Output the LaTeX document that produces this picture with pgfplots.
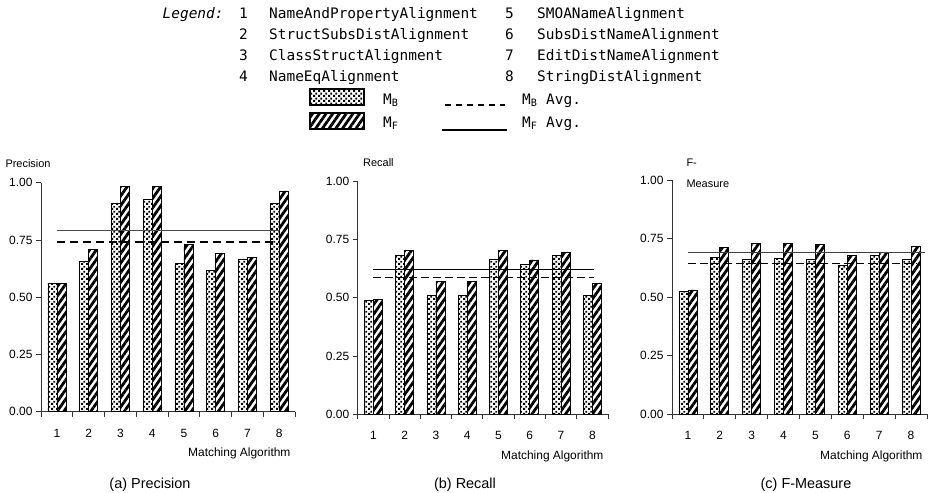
\documentclass[border=0pt]{standalone}
\usepackage{fontspec}
\setmainfont{Liberation Sans}
\newfontfamily\mono{DejaVu Sans Mono}
\usepackage{pgfplots}
\pgfplotsset{compat=1.18}
\usetikzlibrary{patterns,patterns.meta}

\tikzdeclarepattern{
  name=sqdots,
  type=uncolored,
  bottom left={(0bp,0bp)},
  top right={(4.6bp,4.6bp)},
  tile size={(4.6bp,4.6bp)},
  code={
    \fill (0.2bp,0.2bp) rectangle (2.2bp,2.2bp);
    \fill (2.5bp,2.5bp) rectangle (4.5bp,4.5bp);
  }
}

\pgfplotsset{
  panel/.style={
    scale only axis,
    anchor=south west,
    xmin=0.5, xmax=8.5, ymin=0, ymax=1,
    ybar=0pt, bar width=9bp,
    axis x line=bottom, axis y line=left,
    axis line style={-, draw=black!80, line width=0.8bp},
    xtick={1,2,3,4,5,6,7,8},
    xticklabels={1,2,3,4,5,6,7,8},
    minor xtick={0.5,1.5,2.5,3.5,4.5,5.5,6.5,7.5,8.5},
    major x tick style={draw=none},
    minor x tick style={draw=black!80, line width=0.8bp},
    ytick={0,0.25,0.5,0.75,1},
    yticklabels={0.00,0.25,0.50,0.75,1.00},
    y tick style={draw=black!80, line width=0.8bp},
    tick align=outside,
    major tick length=5bp, minor tick length=5bp,
    ticklabel style={font=\fontsize{12}{13}\selectfont},
    xticklabel style={yshift=-9bp},
    xlabel={Matching Algorithm},
    xlabel style={at={(axis description cs:1,0)}, anchor=base east, yshift=-45bp, xshift=-1bp, font=\fontsize{12}{13}\selectfont},
    clip=false,
  },
  mb/.style={draw=black, line width=0.7bp, pattern=sqdots, pattern color=black, bar shift=-4.5bp},
  mf/.style={draw=black, line width=0.7bp, pattern={Lines[angle=55,distance=5.5bp,line width=2.8bp]}, pattern color=black, bar shift=4.5bp},
}

\begin{document}
\begin{tikzpicture}
\useasboundingbox (0,0) rectangle (932bp,-493bp);

% ---------- (a) Precision ----------
\begin{axis}[panel, at={(41bp,-411.7bp)}, width=254bp, height=229bp]
\addplot[mb] coordinates {(1,0.560) (2,0.655) (3,0.910) (4,0.927) (5,0.648) (6,0.617) (7,0.665) (8,0.910)};
\addplot[mf] coordinates {(1,0.560) (2,0.710) (3,0.983) (4,0.983) (5,0.731) (6,0.692) (7,0.674) (8,0.964)};
\addplot[sharp plot, mark=none, draw=black!70, line width=1.2bp] coordinates {(1,0.790) (8,0.790)};
\addplot[sharp plot, mark=none, draw=black, line width=1.8bp, dash pattern=on 8bp off 5bp] coordinates {(1,0.742) (8,0.742)};
\node[anchor=base west, font=\fontsize{11}{12}\selectfont, xshift=-39bp, yshift=15.5bp] at (axis description cs:0,1) {Precision};
\end{axis}

% ---------- (b) Recall ----------
\begin{axis}[panel, at={(357.7bp,-414bp)}, width=250.3bp, height=232.3bp]
\addplot[mb] coordinates {(1,0.489) (2,0.684) (3,0.511) (4,0.511) (5,0.666) (6,0.644) (7,0.684) (8,0.511)};
\addplot[mf] coordinates {(1,0.495) (2,0.706) (3,0.571) (4,0.571) (5,0.706) (6,0.663) (7,0.696) (8,0.561)};
\addplot[sharp plot, mark=none, draw=black, line width=1.1bp] coordinates {(1,0.623) (8.05,0.623)};
\addplot[sharp plot, mark=none, draw=black, line width=1.1bp, dash pattern=on 8bp off 4bp] coordinates {(1,0.588) (8.05,0.588)};
\node[anchor=base west, font=\fontsize{11}{12}\selectfont, xshift=2bp, yshift=15.5bp] at (axis description cs:0,1) {Recall};
\end{axis}

% ---------- (c) F-Measure ----------
\begin{axis}[panel, at={(672bp,-414bp)}, width=255bp, height=234bp]
\addplot[mb] coordinates {(1,0.524) (2,0.670) (3,0.660) (4,0.664) (5,0.660) (6,0.634) (7,0.678) (8,0.660)};
\addplot[mf] coordinates {(1,0.530) (2,0.711) (3,0.729) (4,0.729) (5,0.725) (6,0.679) (7,0.689) (8,0.715)};
\addplot[sharp plot, mark=none, draw=black!75, line width=1.1bp] coordinates {(1,0.689) (8.45,0.689)};
\addplot[sharp plot, mark=none, draw=black, line width=1.1bp, dash pattern=on 8bp off 4bp] coordinates {(1,0.644) (8.2,0.644)};
\node[anchor=base west, font=\fontsize{11}{12}\selectfont, xshift=11bp, yshift=14bp] at (axis description cs:0,1) {F-};
\node[anchor=base west, font=\fontsize{11}{12}\selectfont, xshift=11bp, yshift=-7bp] at (axis description cs:0,1) {Measure};
\end{axis}

% ---------- captions ----------
\node[anchor=base, font=\fontsize{14.5}{16}\selectfont] at (150bp,-488bp) {(a) Precision};
\node[anchor=base, font=\fontsize{14.5}{16}\selectfont] at (465bp,-488bp) {(b) Recall};
\node[anchor=base, font=\fontsize{14.5}{16}\selectfont] at (806bp,-488bp) {(c) F-Measure};

% ---------- legend ----------
\begin{scope}[every node/.style={anchor=base west, inner sep=0pt, font=\mono\fontsize{14.5}{16}\selectfont}]
\node at (162.5bp,-18.5bp) {\itshape Legend:};
\node at (239bp,-18.5bp) {1};
\node at (269bp,-18.5bp) {NameAndPropertyAlignment};
\node at (505bp,-18.5bp) {5};
\node at (537bp,-18.5bp) {SMOANameAlignment};
\node at (239bp,-39.5bp) {2};
\node at (269bp,-39.5bp) {StructSubsDistAlignment};
\node at (505bp,-39.5bp) {6};
\node at (537bp,-39.5bp) {SubsDistNameAlignment};
\node at (239bp,-60.5bp) {3};
\node at (269bp,-60.5bp) {ClassStructAlignment};
\node at (505bp,-60.5bp) {7};
\node at (537bp,-60.5bp) {EditDistNameAlignment};
\node at (239bp,-81.5bp) {4};
\node at (269bp,-81.5bp) {NameEqAlignment};
\node at (505bp,-81.5bp) {8};
\node at (537bp,-81.5bp) {StringDistAlignment};
\node at (383bp,-104bp) {M\textsubscript{B}};
\node at (522bp,-104bp) {M\textsubscript{B} Avg.};
\node at (383bp,-127bp) {M\textsubscript{F}};
\node at (522bp,-127bp) {M\textsubscript{F} Avg.};
\end{scope}
\draw[draw=black, line width=1.2bp, pattern=sqdots, pattern color=black] (310bp,-89bp) rectangle (364bp,-105bp);
\draw[draw=black, line width=1.2bp, pattern={Lines[angle=55,distance=5.5bp,line width=2.8bp]}, pattern color=black] (310bp,-113bp) rectangle (364bp,-129bp);
\draw[black, line width=1.2bp, dash pattern=on 6bp off 5bp] (445bp,-105bp) -- (505bp,-105bp);
\draw[black, line width=1.2bp] (442bp,-130bp) -- (507bp,-130bp);
\end{tikzpicture}
\end{document}
